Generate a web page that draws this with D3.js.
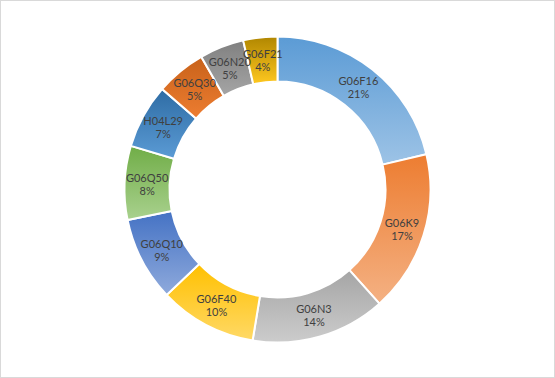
<!DOCTYPE html>
<html>
<head>
<meta charset="utf-8">
<script src="https://cdn.jsdelivr.net/npm/d3@7"></script>
<style>
	body { margin: 0; background: #fff; }
	svg { display: block; }
</style>
</head>
<body>
<div id="chart"></div>
<script>
// slice names, clockwise from 12 o'clock
let names = ["G06F16", "G06K9", "G06N3", "G06F40", "G06Q10", "G06Q50", "H04L29", "G06Q30", "G06N20", "G06F21"];
// share of each slice (%)
let values = [21.3, 17.1, 14.2, 10.3, 8.9, 7.8, 6.8, 5.3, 4.7, 3.6];
// gradient colours per slice: top, bottom
let topColors = ["#5b9bd5", "#ed7d31", "#a5a5a5", "#ffc000", "#4472c4", "#70ad47", "#2e6ca4", "#c8621a", "#808080", "#b08600"];
let bottomColors = ["#9dc3e6", "#f4b183", "#cccccc", "#ffd966", "#8faadc", "#a9d18e", "#5b9bd5", "#ed7d31", "#a5a5a5", "#ffc820"];

let width = 555;
let height = 378;
let cx = 277.5, cy = 189.5;
let outerR = 153, innerR = 108;

let svg = d3.select("#chart").append("svg")
	.attr("width", width)
	.attr("height", height);

svg.append("rect")
	.attr("x", 0.5).attr("y", 0.5)
	.attr("width", width - 1).attr("height", height - 1)
	.attr("fill", "#fff")
	.attr("stroke", "#d9d9d9");

let defs = svg.append("defs");
names.forEach(function(n, i) {
	let g = defs.append("linearGradient")
		.attr("id", "grad" + i)
		.attr("x1", 0).attr("y1", 0).attr("x2", 0).attr("y2", 1);
	g.append("stop").attr("offset", "0%").attr("stop-color", topColors[i]);
	g.append("stop").attr("offset", "100%").attr("stop-color", bottomColors[i]);
});

let data = names.map(function(n, i) { return { name: n, value: values[i], i: i }; });

let pie = d3.pie()
	.value(function(d) { return d.value; })
	.sort(null);

let arc = d3.arc()
	.innerRadius(innerR)
	.outerRadius(outerR);

let labelArc = d3.arc()
	.innerRadius((innerR + outerR) / 2)
	.outerRadius((innerR + outerR) / 2);

let g = svg.append("g").attr("transform", "translate(" + cx + "," + cy + ")");

let arcs = pie(data);

g.selectAll("path.slice")
	.data(arcs)
	.enter().append("path")
	.attr("class", "slice")
	.attr("d", arc)
	.attr("fill", function(d) { return "url(#grad" + d.data.i + ")"; })
	.attr("stroke", "#fff")
	.attr("stroke-width", 2);

let labels = g.selectAll("text.lbl")
	.data(arcs)
	.enter().append("text")
	.attr("class", "lbl")
	.attr("transform", function(d) { return "translate(" + labelArc.centroid(d) + ")"; })
	.attr("text-anchor", "middle")
	.attr("font-family", "Lato, 'Open Sans', sans-serif")
	.attr("font-size", 11)
	.attr("fill", "#404040");

labels.append("tspan")
	.attr("x", 0)
	.attr("y", -2)
	.text(function(d) { return d.data.name; });

labels.append("tspan")
	.attr("x", 0)
	.attr("y", 11)
	.text(function(d) { return Math.round(d.data.value) + "%"; });
</script>
</body>
</html>
